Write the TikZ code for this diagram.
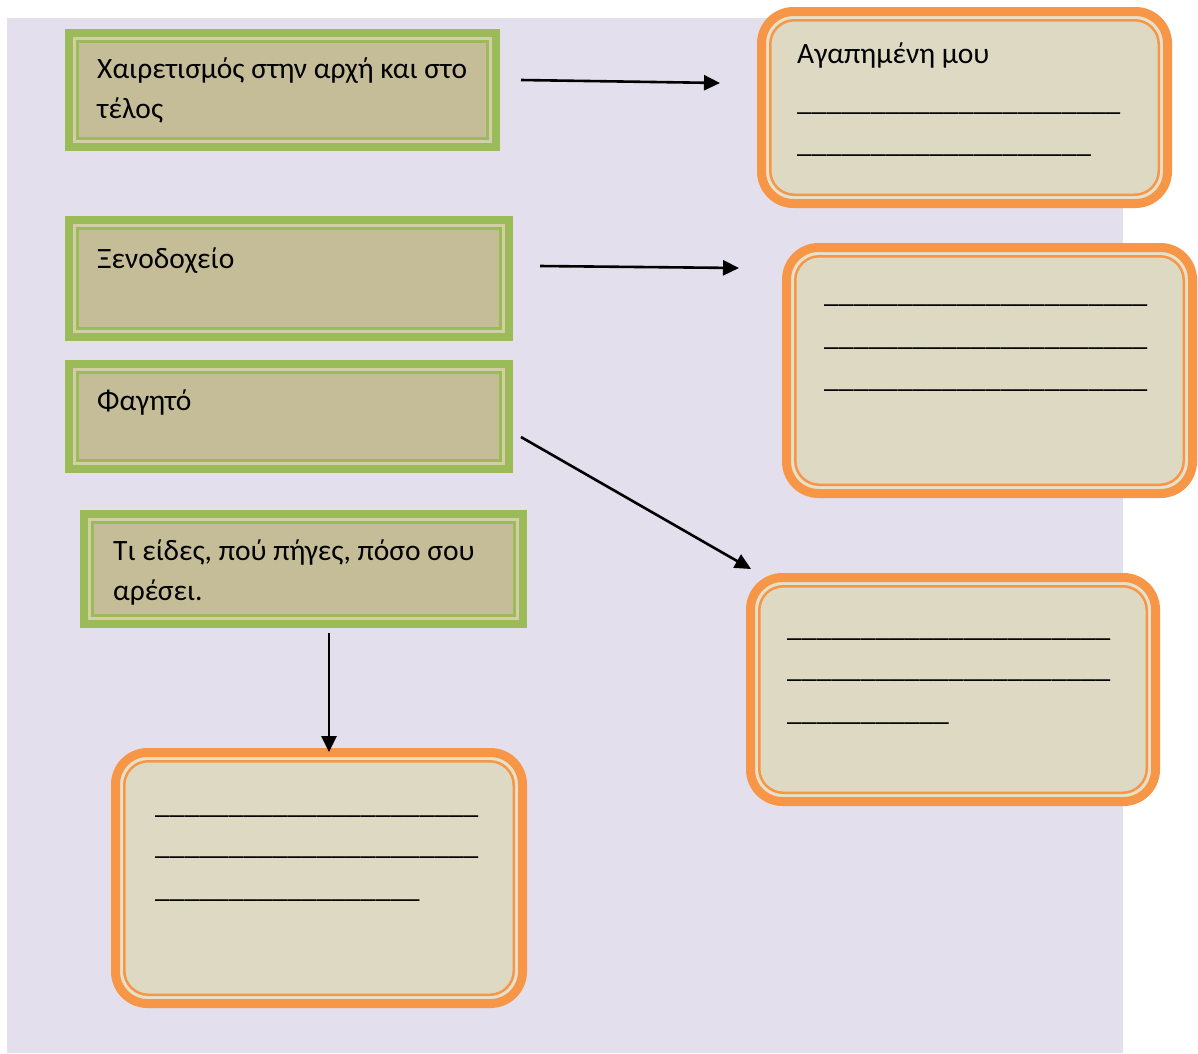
\documentclass[tikz,border=0pt]{standalone}
\usepackage{fontspec}
\setmainfont{Carlito}
\usetikzlibrary{arrows.meta}
\definecolor{lav}{HTML}{E4DFEC}
\definecolor{grn}{HTML}{9BBB59}
\definecolor{grnfill}{HTML}{C4BD97}
\definecolor{grngap}{HTML}{D3CDA8}
\definecolor{org}{HTML}{F79646}
\definecolor{orgfill}{HTML}{DDD9C3}
\definecolor{orggap}{HTML}{E6E1CB}
\tikzset{
  gbox/.style={draw=grn, line width=8pt, fill=grngap, inner sep=0pt,
    path picture={\draw[grn, line width=3pt, fill=grnfill]
      ([shift={(8.5pt,-8.5pt)}]path picture bounding box.north west) rectangle
      ([shift={(-8.5pt,8.5pt)}]path picture bounding box.south east);}},
  obox/.style={draw=org, line width=9pt, fill=orggap, inner sep=0pt, rounded corners=32pt,
    path picture={\draw[org, line width=2.5pt, fill=orgfill, rounded corners=24pt]
      ([shift={(8.75pt,-8.75pt)}]path picture bounding box.north west) rectangle
      ([shift={(-8.75pt,8.75pt)}]path picture bounding box.south east);}},
  txt/.style={anchor=base west, inner sep=0pt, font=\fontsize{29.5}{40}\selectfont},
  arr/.style={line width=2.6pt, -{Triangle[length=16pt,width=15pt]}},
}
\begin{document}
\begin{tikzpicture}[x=1pt,y=-1pt]
\useasboundingbox (0,0) rectangle (1198,1053);
\fill[white] (0,0) rectangle (1198,1053);
\fill[lav] (7,18) rectangle (1123,1053);
% green boxes
\node[gbox, minimum width=427pt, minimum height=114pt] (g1) at (282.5,90) {};
\node[gbox, minimum width=440pt, minimum height=117pt] (g2) at (289,278.5) {};
\node[gbox, minimum width=440pt, minimum height=105pt] (g3) at (289,416.5) {};
\node[gbox, minimum width=439pt, minimum height=110pt] (g4) at (303.5,569) {};
% orange boxes
\node[obox, minimum width=406pt, minimum height=192pt] (o1) at (964.5,107.5) {};
\node[obox, minimum width=406pt, minimum height=246pt] (o2) at (989.5,370.5) {};
\node[obox, minimum width=405pt, minimum height=224pt] (o3) at (953,689.5) {};
\node[obox, minimum width=407pt, minimum height=251pt] (o4) at (319,878) {};
% texts
\node[txt] (t1a) at (97,78) {Χαιρετισμός στην αρχή και στο};
\node[txt] (t1b) at (97,118) {τέλος};
\node[txt] (t2) at (97,268) {Ξενοδοχείο};
\node[txt] (t3) at (97,410) {Φαγητό};
\node[txt] (t4a) at (113,560) {Τι είδες, πού πήγες, πόσο σου};
\node[txt] (t4b) at (113,600) {αρέσει.};
\node[txt] (u1a) at (797,63) {Αγαπημένη μου};
\node[txt] (u1b) at (797,110) {\_\_\_\_\_\_\_\_\_\_\_\_\_\_\_\_\_\_\_\_\_\_};
\node[txt] (u1c) at (797,152) {\_\_\_\_\_\_\_\_\_\_\_\_\_\_\_\_\_\_\_\_};
\node[txt] (u2a) at (824,302) {\_\_\_\_\_\_\_\_\_\_\_\_\_\_\_\_\_\_\_\_\_\_};
\node[txt] (u2b) at (824,345) {\_\_\_\_\_\_\_\_\_\_\_\_\_\_\_\_\_\_\_\_\_\_};
\node[txt] (u2c) at (824,387) {\_\_\_\_\_\_\_\_\_\_\_\_\_\_\_\_\_\_\_\_\_\_};
\node[txt] (u3a) at (787,636) {\_\_\_\_\_\_\_\_\_\_\_\_\_\_\_\_\_\_\_\_\_\_};
\node[txt] (u3b) at (787,677) {\_\_\_\_\_\_\_\_\_\_\_\_\_\_\_\_\_\_\_\_\_\_};
\node[txt] (u3c) at (787,720) {\_\_\_\_\_\_\_\_\_\_\_};
\node[txt] (u4a) at (155,813) {\_\_\_\_\_\_\_\_\_\_\_\_\_\_\_\_\_\_\_\_\_\_};
\node[txt] (u4b) at (155,854) {\_\_\_\_\_\_\_\_\_\_\_\_\_\_\_\_\_\_\_\_\_\_};
\node[txt] (u4c) at (155,897) {\_\_\_\_\_\_\_\_\_\_\_\_\_\_\_\_\_\_};
% arrow endpoints
\coordinate (a1s) at (521,80);  \coordinate (a1e) at (720,83);
\coordinate (a2s) at (540,266); \coordinate (a2e) at (739,268);
\coordinate (a3s) at (521,437); \coordinate (a3e) at (751,569);
\coordinate (a4s) at (329,633); \coordinate (a4e) at (329,752);
\draw[arr] (a1s) -- (a1e);
\draw[arr] (a2s) -- (a2e);
\draw[arr] (a3s) -- (a3e);
\draw[arr] (a4s) -- (a4e);
\end{tikzpicture}
\end{document}
